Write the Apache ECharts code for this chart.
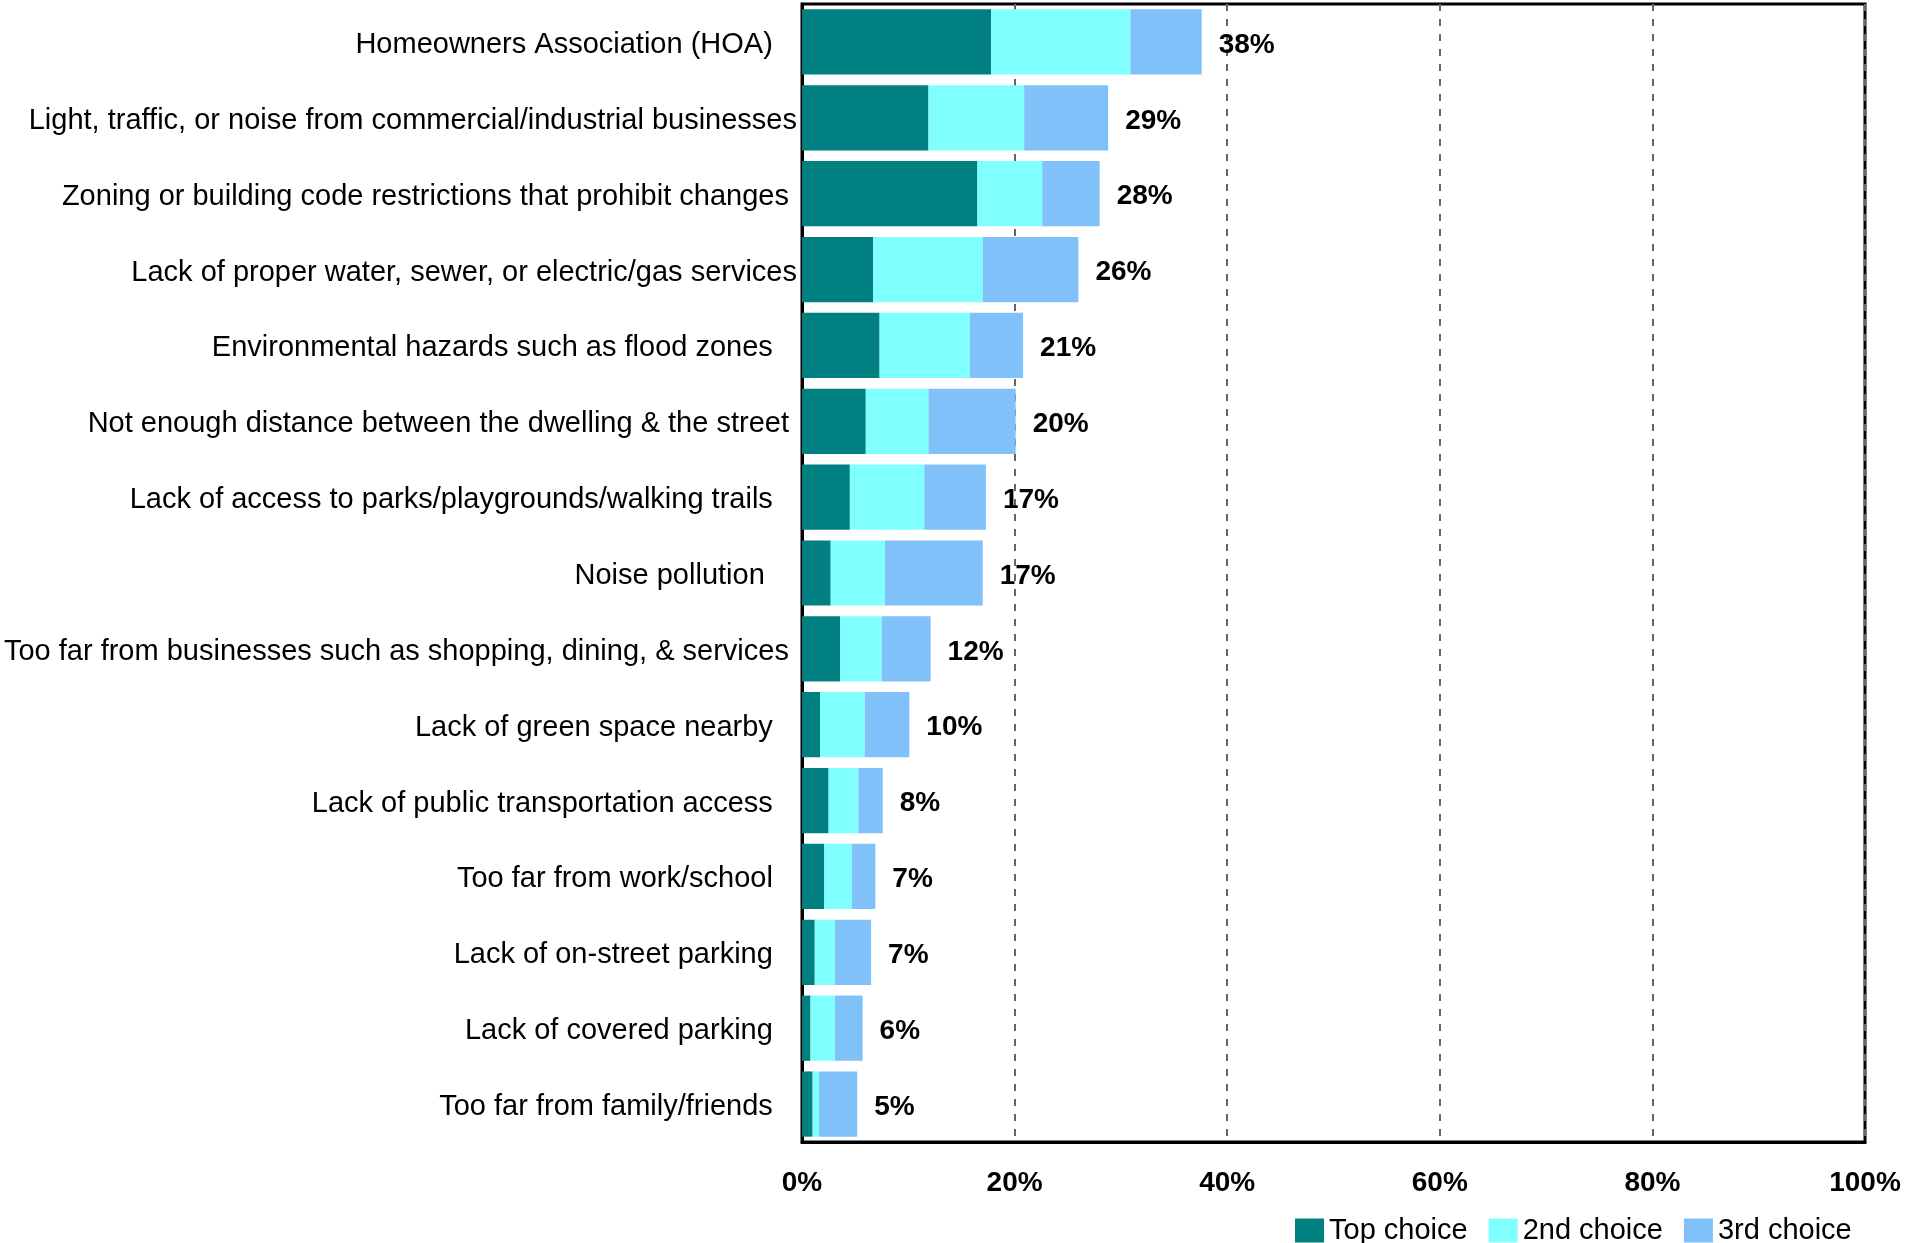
<!DOCTYPE html>
<html><head><meta charset="utf-8">
<script src="https://cdn.jsdelivr.net/npm/echarts@6/dist/echarts.min.js"></script>
<style>html,body{margin:0;padding:0;background:#fff}#c{width:1923px;height:1243px}</style>
</head><body><div id="c"></div>
<script>
const categories = [
  'Homeowners Association (HOA)   ',
  'Light, traffic, or noise from commercial/industrial businesses',
  'Zoning or building code restrictions that prohibit changes ',
  'Lack of proper water, sewer, or electric/gas services',
  'Environmental hazards such as flood zones   ',
  'Not enough distance between the dwelling & the street ',
  'Lack of access to parks/playgrounds/walking trails   ',
  'Noise pollution    ',
  'Too far from businesses such as shopping, dining, & services ',
  'Lack of green space nearby   ',
  'Lack of public transportation access   ',
  'Too far from work/school   ',
  'Lack of on-street parking   ',
  'Lack of covered parking   ',
  'Too far from family/friends   '
];
const seriesNames = ['Top choice', '2nd choice', '3rd choice'];
const topChoice    = [17.8, 11.9, 16.5, 6.7, 7.3, 6.0, 4.5, 2.7, 3.6, 1.7, 2.5, 2.1, 1.2, 0.8, 1.0];
const secondChoice = [13.1, 9.0, 6.1, 10.3, 8.5, 5.9, 7.0, 5.1, 3.9, 4.2, 2.8, 2.6, 1.9, 2.3, 0.6];
const thirdChoice  = [6.7, 7.9, 5.4, 9.0, 5.0, 8.2, 5.8, 9.2, 4.6, 4.2, 2.3, 2.2, 3.4, 2.6, 3.6];
const totalLabels  = [38, 29, 28, 26, 21, 20, 17, 17, 12, 10, 8, 7, 7, 6, 5];
const xTickValues  = [0, 20, 40, 60, 80, 100];

const colors = ['#008080', '#80FFFF', '#7FC1F8'];
const chart = echarts.init(document.getElementById('c'), null, {renderer: 'canvas'});
const font = 'Liberation Sans';
const seriesData = [topChoice, secondChoice, thirdChoice];
const series = seriesNames.map((n, i) => {
  const s = {
    name: n, type: 'bar', stack: 'total', data: seriesData[i],
    barCategoryGap: '14%',
    itemStyle: {color: colors[i]},
    emphasis: {disabled: true}
  };
  if (i === 2) {
    s.label = {
      show: true, position: 'right', distance: 17, offset: [0, 3],
      formatter: p => totalLabels[p.dataIndex] + '%',
      fontSize: 28, fontWeight: 'bold', color: '#000', fontFamily: font
    };
  }
  return s;
});
chart.setOption({
  animation: false,
  backgroundColor: '#fff',
  textStyle: {fontFamily: font, color: '#000'},
  grid: {left: 802, top: 4, width: 1063, height: 1138, show: true,
         borderColor: '#000', borderWidth: 3, backgroundColor: 'transparent'},
  legend: {
    data: seriesNames, left: 1290, top: 1211, icon: 'rect',
    itemWidth: 29, itemHeight: 24, itemGap: 21,
    textStyle: {fontSize: 29, color: '#000', fontFamily: font}
  },
  xAxis: {
    type: 'value', min: xTickValues[0], max: xTickValues[xTickValues.length - 1], interval: 20,
    axisLine: {show: true, lineStyle: {color: '#000', width: 3}},
    axisTick: {show: false},
    axisLabel: {formatter: '{value}%', fontSize: 28, fontWeight: 'bold', color: '#000', margin: 27, fontFamily: font},
    splitLine: {show: true, lineStyle: {type: [7, 8], color: '#666', width: 2}}
  },
  yAxis: {
    type: 'category', inverse: true, data: categories,
    axisLine: {show: true, lineStyle: {color: '#000', width: 3}},
    axisTick: {show: false},
    axisLabel: {
      margin: 5, interval: 0,
      formatter: v => '{a|' + v + '}',
      rich: {a: {fontSize: 29, color: '#000', fontFamily: font, padding: [6, 0, 0, 0]}}
    },
    splitLine: {show: false}
  },
  series: series
});
</script>
</body></html>
